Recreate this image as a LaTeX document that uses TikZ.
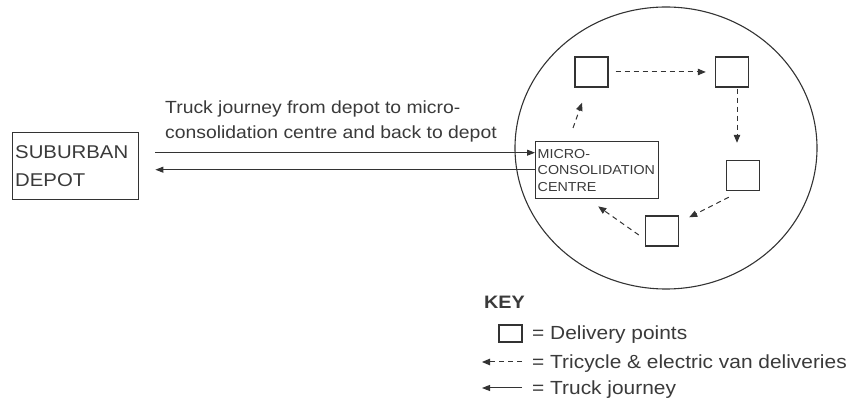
\documentclass[tikz,border=0pt]{standalone}
\usepackage{fontspec}
\setmainfont[FakeStretch=1.1]{Liberation Sans}
\usetikzlibrary{arrows.meta,shapes.geometric}
\definecolor{ink}{HTML}{333333}
\definecolor{txt}{HTML}{3A3A3A}
\begin{document}
\begin{tikzpicture}[x=1pt,y=-1pt,
  box/.style={draw=ink, line width=1.4pt, inner sep=0pt},
  dpoint/.style={box, minimum width=33pt, minimum height=30pt},
  truck/.style={draw=ink, line width=1pt, -{Triangle[length=8pt,width=6pt]}},
  dasharrow/.style={draw=ink, line width=1pt, dash pattern=on 5pt off 4pt, -{Triangle[length=8pt,width=6.5pt]}},
  lbl/.style={text=txt, inner sep=0pt}
]
\useasboundingbox (0,0) rectangle (852,403);

% zone
\node[draw=ink, line width=1.1pt, ellipse, minimum width=302pt, minimum height=282pt] (zone) at (666,148) {};

% depot
\node[box, anchor=north west, minimum width=125pt, minimum height=67pt,
      text width=121pt, inner xsep=2.5pt, align=left, text=txt,
      font=\fontsize{18.5}{28}\selectfont] (depot) at (12,132) {SUBURBAN\\DEPOT};

% micro-consolidation centre
\node[box, anchor=north west, minimum width=122pt, minimum height=57pt,
      text width=119pt, inner xsep=2pt, align=left, text=txt,
      font=\fontsize{13}{16.5}\selectfont] (mcc) at (535,141) {MICRO-\\CONSOLIDATION\\CENTRE};

% delivery points
\node[dpoint] (dp1) at (591.5,72) {};
\node[dpoint] (dp2) at (732,72) {};
\node[dpoint] (dp3) at (743,175.5) {};
\node[dpoint] (dp4) at (662,231) {};

% truck journeys
\draw[truck] ([xshift=16pt,yshift=13.5pt]depot.east) -- ([yshift=17.5pt]mcc.west);
\draw[truck] ([yshift=0.5pt]mcc.west) -- ([xshift=16pt,yshift=-3.5pt]depot.east);

\node[lbl, anchor=north west, align=left, font=\fontsize{17.6}{25}\selectfont] (trucklbl) at (165,100.5)
  {Truck journey from depot to micro-\\consolidation centre and back to depot};

% tricycle & electric van deliveries
\draw[dasharrow] ([xshift=38pt,yshift=13pt]mcc.north west) -- ([xshift=-9.5pt,yshift=-15pt]dp1.south);
\draw[dasharrow] ([xshift=7pt]dp1.east) -- ([xshift=-9pt]dp2.west);
\draw[dasharrow] ([xshift=5pt,yshift=-1pt]dp2.south) -- ([xshift=-6pt,yshift=17pt]dp3.north);
\draw[dasharrow] ([xshift=3pt,yshift=-6pt]dp3.south west) -- ([xshift=10pt,yshift=-2pt]dp4.north east);
\draw[dasharrow] ([xshift=-6pt,yshift=-4pt]dp4.west) -- ([xshift=1pt,yshift=-7pt]mcc.south);

% key
\node[lbl, anchor=base west, font=\fontsize{18}{22}\bfseries\selectfont] (keyttl) at (484,308.5) {KEY};
\node[box, line width=1.2pt, minimum width=23pt, minimum height=17pt] (keysq) at (510.5,333.5) {};
\node[lbl, anchor=base west, font=\fontsize{19}{22}\selectfont] (k1) at (532,340) {= Delivery points};
\coordinate (kd1) at (522,362);
\coordinate (kd2) at (482,362);
\draw[dasharrow] (kd1) -- (kd2);
\node[lbl, anchor=base west, font=\fontsize{19}{22}\selectfont] (k2) at (532,369) {= Tricycle \& electric van deliveries};
\coordinate (kt1) at (522,388);
\coordinate (kt2) at (482,388);
\draw[truck] (kt1) -- (kt2);
\node[lbl, anchor=base west, font=\fontsize{19}{22}\selectfont] (k3) at (532,395) {= Truck journey};
\end{tikzpicture}
\end{document}
